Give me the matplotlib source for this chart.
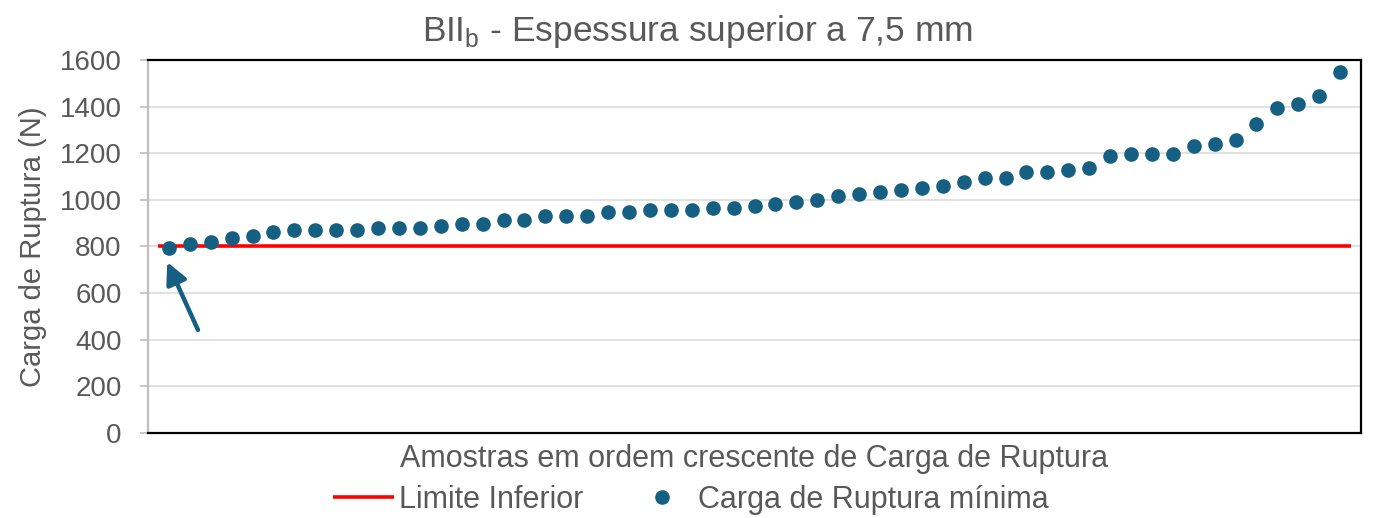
import numpy as np
import matplotlib
matplotlib.use('Agg')
from matplotlib import pyplot as plt

# carga de ruptura minima (N), amostras ordenadas
carga = [795, 812, 821, 838, 846, 864, 872, 872, 872, 872,
         881, 881, 881, 889, 898, 898, 915, 915, 932, 932,
         932, 949, 949, 958, 958, 958, 966, 966, 975, 983,
         992, 1001, 1018, 1027, 1035, 1044, 1052, 1061, 1078, 1095,
         1095, 1121, 1121, 1129, 1138, 1189, 1198, 1198, 1198, 1232,
         1241, 1258, 1327, 1395, 1413, 1447, 1550]
limite = 800
yticks = [0, 200, 400, 600, 800, 1000, 1200, 1400, 1600]

cor_pontos = '#156082'
cor_texto = '#595959'

plt.rcParams['font.family'] = ['Liberation Sans', 'DejaVu Sans']
plt.rcParams['mathtext.fontset'] = 'custom'
plt.rcParams['mathtext.rm'] = 'Liberation Sans'

n = len(carga)
x = np.arange(1, n + 1)

fig = plt.figure(figsize=(13.73, 5.18), dpi=100)
ax = fig.add_axes([0.1078, 0.1641, 0.8835, 0.7201])

ax.hlines(limite, 0.5, n + 0.5, color='#ff0000', lw=2.6, label='Limite Inferior', zorder=2)
ax.plot(x, carga, 'o', color=cor_pontos, ms=9.5, label='Carga de Ruptura mínima', zorder=3)

ax.annotate('', xy=(0.92, 733), xytext=(2.39, 442),
            arrowprops=dict(arrowstyle='-|>', color=cor_pontos, lw=3.2, mutation_scale=32,
                            shrinkA=0, shrinkB=0))

ax.set_xlim(0, n + 1)
ax.set_ylim(0, 1600)
ax.set_yticks(yticks)
ax.set_xticks([])
ax.grid(axis='y', color='#d9d9d9', lw=1.1)
ax.set_axisbelow(True)
ax.tick_params(axis='y', labelsize=20, labelcolor=cor_texto, color='#bfbfbf', length=6, width=1.2, pad=13)

for s in ['top', 'right', 'bottom']:
    ax.spines[s].set_color('black')
    ax.spines[s].set_linewidth(1.6)
ax.spines['left'].set_color('#bfbfbf')
ax.spines['left'].set_linewidth(1.6)

ax.set_ylabel('Carga de Ruptura (N)', fontsize=21, color=cor_texto, labelpad=9)
ax.set_xlabel('Amostras em ordem crescente de Carga de Ruptura', fontsize=22,
              color=cor_texto, labelpad=8)
fig.suptitle(r'BII$_{\mathrm{b}}$ - Espessura superior a 7,5 mm', x=0.508, y=0.975,
             va='top', fontsize=25.5, color=cor_texto)

leg = fig.legend(loc='center', bbox_to_anchor=(0.503, 0.035), ncol=2, frameon=False,
                 handlelength=2.0, handletextpad=0.15, columnspacing=1.6,
                 numpoints=1, prop={'size': 22})
for t in leg.get_texts():
    t.set_color(cor_texto)

fig.savefig('out.png', dpi=100)
